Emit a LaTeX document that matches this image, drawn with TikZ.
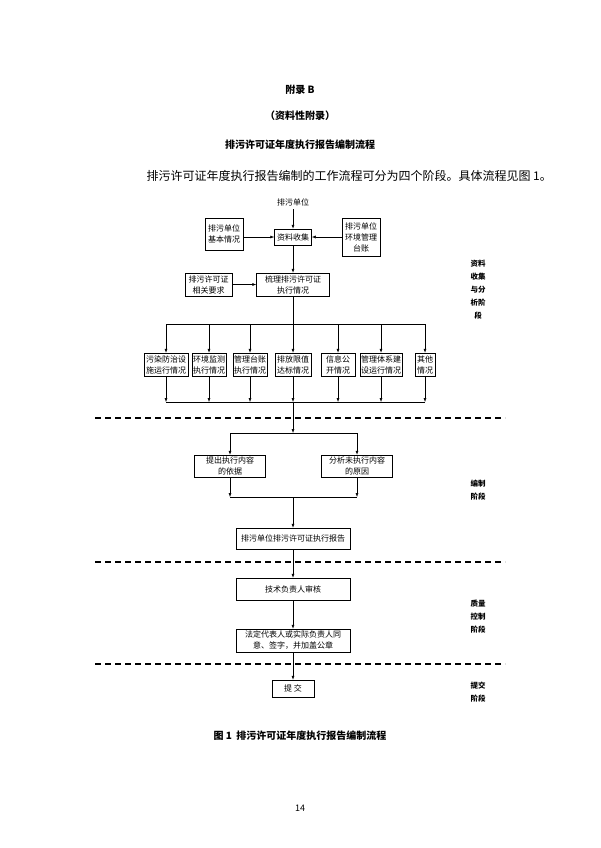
\documentclass[tikz,border=0pt]{standalone}
\usepackage{fontspec}
\setmainfont{Noto Sans CJK SC}
\usetikzlibrary{arrows.meta}
\begin{document}
\begin{tikzpicture}[x=1pt,y=-1pt,
  bx/.style={draw,line width=0.5pt,align=center,font=\fontsize{8}{11}\selectfont,inner sep=1pt},
  ar/.style={-{Latex[length=4,width=3]},line width=0.5pt},
  ln/.style={line width=0.5pt},
  dl/.style={dash pattern=on 6pt off 4pt,line width=1.2pt},
  stage/.style={font=\fontsize{7.5}{13}\selectfont\bfseries,align=center}]
\useasboundingbox (0,0) rectangle (600,848);
\node[font=\fontsize{10}{12}\selectfont\bfseries] (t1) at (300,90) {附录 B};
\node[font=\fontsize{10}{12}\selectfont\bfseries] (t2) at (300,116) {（资料性附录）};
\node[font=\fontsize{10}{12}\selectfont\bfseries] (t3) at (300,145) {排污许可证年度执行报告编制流程};
\node[font=\fontsize{12}{14}\selectfont,anchor=west] (p) at (143,176) {排污许可证年度执行报告编制的工作流程可分为四个阶段。具体流程见图 1。};
% top
\node[font=\fontsize{8}{10}\selectfont] (src) at (293,202) {排污单位};
\node[bx,minimum width=37,minimum height=16] (col) at (293,237) {资料收集};
\node[bx,minimum width=38,minimum height=32] (basic) at (224,234) {排污单位\\基本情况};
\node[bx,minimum width=38,minimum height=38] (ledger) at (361,237) {排污单位\\环境管理\\台账};
\node[bx,minimum width=73,minimum height=23] (sort) at (293,284.5) {梳理排污许可证\\执行情况};
\node[bx,minimum width=47,minimum height=23] (req) at (208.5,284.5) {排污许可证\\相关要求};
\draw[ar] (src) -- (col);
\draw[ar] (basic.east|-col) -- (col);
\draw[ar] (ledger.west|-col) -- (col);
\draw[ar] (col) -- (sort);
\draw[ar] (req) -- (sort);
% seven boxes
\coordinate (b) at (293,324);
\foreach \n/\x/\w/\t in {a/166/44/{污染防治设\\施运行情况},b/209/32/{环境监测\\执行情况},c/250/34/{管理台账\\执行情况},d/293/36/{排放限值\\达标情况},e/338/34/{信息公\\开情况},f/381/41/{管理体系建\\设运行情况},g/425/20/{其他\\情况}}{
  \node[bx,minimum width=\w,minimum height=23] (k\n) at (\x,364.5) {\t};
  \coordinate (u\n) at (\x,324);
  \coordinate (d\n) at (\x,402);
  \draw[ar] (u\n) -- (k\n);
  \draw[ar] (k\n) -- (d\n);
}
\draw[ln] (sort) -- (b);
\draw[ln] (ua) -- (ug);
\draw[ln] (da) -- (dg);
% dashed separators
\coordinate (s1l) at (95,418); \coordinate (s1r) at (505,418);
\coordinate (s2l) at (95,562); \coordinate (s2r) at (505,562);
\coordinate (s3l) at (95,664); \coordinate (s3r) at (505,664);
\draw[dl] (s1l) -- (s1r);
\draw[dl] (s2l) -- (s2r);
\draw[dl] (s3l) -- (s3r);
% compile stage
\coordinate (j1) at (293,433);
\coordinate (jl) at (230,433); \coordinate (jr) at (357,433);
\draw[ar] (dd) -- (j1);
\draw[ln] (jl) -- (jr);
\node[bx,minimum width=71,minimum height=22] (basis) at (230,466) {提出执行内容\\的依据};
\node[bx,minimum width=71,minimum height=22] (reason) at (357,466) {分析未执行内容\\的原因};
\coordinate (ml) at (230,497); \coordinate (mr) at (357,497); \coordinate (m) at (293,497);
\draw[ar] (jl) -- (basis); \draw[ar] (jr) -- (reason);
\draw[ar] (basis) -- (ml); \draw[ar] (reason) -- (mr);
\draw[ln] (ml) -- (mr);
\node[bx,minimum width=114,minimum height=21] (rep) at (293,538.5) {排污单位排污许可证执行报告};
\draw[ar] (m) -- (rep);
\node[bx,minimum width=114,minimum height=22] (rev) at (293,589) {技术负责人审核};
\draw[ar] (rep) -- (rev);
\node[bx,minimum width=114,minimum height=23] (sign) at (293,640.5) {法定代表人或实际负责人同\\意、签字，并加盖公章};
\draw[ar] (rev) -- (sign);
\node[bx,minimum width=42,minimum height=17] (sub) at (293,688.5) {提\ 交};
\draw[ar] (sign) -- (sub);
% stage labels
\node[stage] (st1) at (478,290) {资料\\收集\\与分\\析阶\\段};
\node[stage] (st2) at (478,490) {编制\\阶段};
\node[stage] (st3) at (478,617) {质量\\控制\\阶段};
\node[stage] (st4) at (478,692) {提交\\阶段};
\node[font=\fontsize{10}{12}\selectfont\bfseries] (cap) at (300,736) {图 1\ \ 排污许可证年度执行报告编制流程};
\node[font=\fontsize{9}{10}\selectfont] (pg) at (300,808) {14};
\end{tikzpicture}
\end{document}
